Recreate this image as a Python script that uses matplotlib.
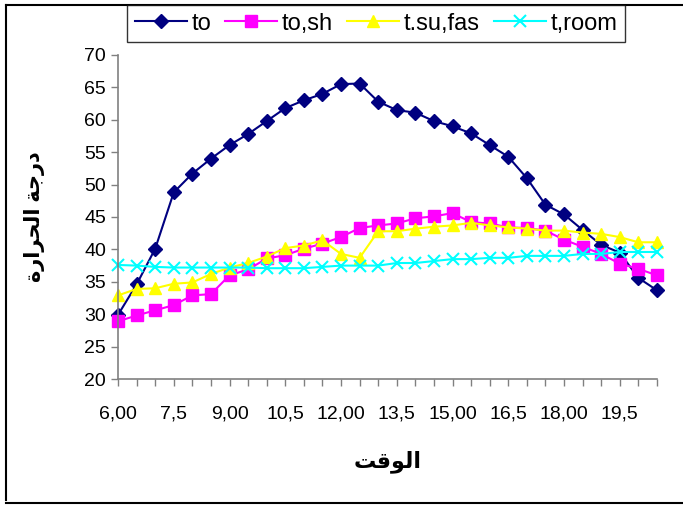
import matplotlib
matplotlib.use("Agg")
from matplotlib import pyplot as plt
from matplotlib.lines import Line2D

# Время суток (через каждые полчаса) и подписи оси X
hours = [6.0 + 0.5 * i for i in range(30)]
tick_labels = ['6,00', '7,5', '9,00', '10,5', '12,00', '13,5', '15,00', '16,5', '18,00', '19,5']

# Температуры по сериям
t_o = [29.9, 34.6, 40.1, 48.8, 51.7, 54.0, 56.1, 57.8, 59.8, 61.8,
       63.0, 64.0, 65.5, 65.6, 62.8, 61.5, 61.1, 59.8, 59.0, 57.9,
       56.1, 54.3, 51.0, 46.9, 45.4, 43.0, 40.7, 39.5, 35.6, 33.7]
t_o_sh = [28.9, 29.8, 30.6, 31.4, 32.9, 33.1, 36.0, 36.9, 38.6, 39.1,
          40.1, 40.9, 41.9, 43.3, 43.7, 44.0, 44.8, 45.1, 45.6, 44.2,
          44.0, 43.4, 43.3, 42.9, 41.5, 40.4, 39.3, 37.8, 37.0, 36.0]
t_su_fas = [32.9, 33.9, 34.0, 34.7, 34.9, 36.2, 37.2, 37.9, 38.9, 40.2,
            40.6, 41.4, 39.3, 38.7, 42.8, 42.8, 43.2, 43.5, 43.7, 44.1,
            43.7, 43.4, 43.2, 42.9, 42.9, 42.6, 42.4, 41.9, 41.1, 41.1]
t_room = [37.6, 37.5, 37.3, 37.2, 37.2, 37.2, 37.2, 37.2, 37.1, 37.1,
          37.1, 37.3, 37.5, 37.5, 37.5, 37.9, 37.9, 38.2, 38.5, 38.5,
          38.7, 38.7, 39.0, 39.0, 39.0, 39.3, 39.3, 39.6, 39.6, 39.6]

fonts = ['Liberation Sans', 'DejaVu Sans']

fig = plt.figure(figsize=(6.83, 5.05), dpi=100)
ax = fig.add_axes([0.1728, 0.2495, 0.789, 0.6416])

x = list(range(len(hours)))
ax.plot(x, t_o, color='#000080', marker='D', markersize=7, lw=1.5, label='to', clip_on=False)
ax.plot(x, t_o_sh, color='#FF00FF', marker='s', markersize=8.5, lw=1.5, label='to,sh', clip_on=False)
ax.plot(x, t_su_fas, color='#FFFF00', marker='^', markersize=9, lw=1.5, label='t.su,fas', clip_on=False)
ax.plot(x, t_room, color='#00FFFF', marker='x', markersize=8, mew=1.5, lw=1.5, label='t,room', clip_on=False)

ax.set_xlim(0, len(hours) - 1)
ax.set_ylim(20, 70)
ax.set_yticks(range(20, 71, 5))
ax.set_xticks(x, minor=True)
ax.set_xticks(x[::3])
ax.set_xticklabels(tick_labels)

for side in ['top', 'right']:
    ax.spines[side].set_visible(False)
for side in ['left', 'bottom']:
    ax.spines[side].set_color('#808080')
    ax.spines[side].set_linewidth(1.2)
ax.tick_params(axis='both', which='both', direction='out', color='#808080', length=5, width=1)
ax.tick_params(axis='x', which='major', pad=14)
for lab in ax.get_xticklabels() + ax.get_yticklabels():
    lab.set_family(fonts)
    lab.set_fontsize(14)

# Подписи осей (арабский текст в уже развёрнутом виде)
ax.set_xlabel('\uFE96\uFED7\uFEEE\uFEDF\uFE8D', family=fonts, fontsize=16, fontweight='bold', labelpad=20)
ax.set_ylabel('\uFE93\uFEAD\uFE8D\uFEAE\uFEA4\uFEDF\uFE8D \uFE94\uFE9F\uFEAD\uFEA9',
              family=fonts, fontsize=15, fontweight='bold', labelpad=28)

leg = fig.legend(loc='upper left', bbox_to_anchor=(127 / 683, 1 - 5 / 505), ncol=4,
                 prop={'family': fonts, 'size': 17}, frameon=True, fancybox=False,
                 handlelength=2.2, handletextpad=0.2, columnspacing=0.6,
                 borderpad=0.32, borderaxespad=0)
leg.get_frame().set_edgecolor('black')
leg.get_frame().set_linewidth(1)

# Рамка вокруг всей диаграммы
for xs, ys in [([6 / 683, 6 / 683], [5 / 505, 1 - 5 / 505]),
               ([6 / 683, 1], [1 - 5 / 505, 1 - 5 / 505]),
               ([6 / 683, 1], [2 / 505, 2 / 505])]:
    fig.add_artist(Line2D(xs, ys, color='black', lw=1.5, transform=fig.transFigure))

fig.savefig('out.png', dpi=100)
